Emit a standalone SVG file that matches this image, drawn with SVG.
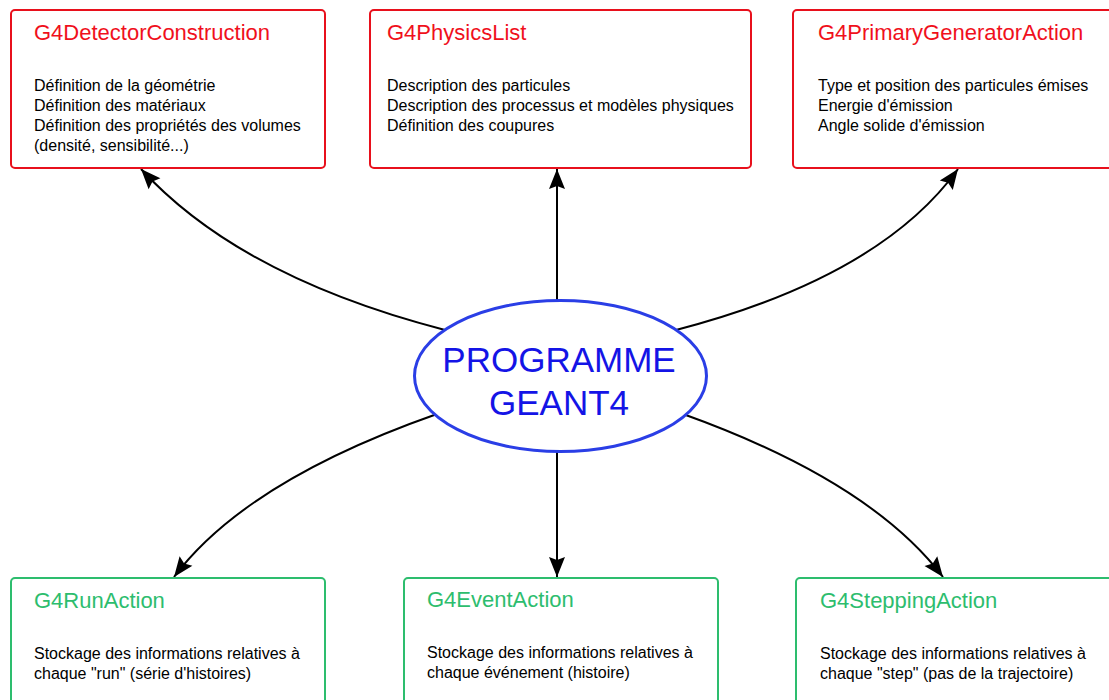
<svg xmlns="http://www.w3.org/2000/svg" width="1109" height="700" viewBox="0 0 1109 700">
<style>
.box{fill:#fff;stroke-width:2}
.red{stroke:#e8101c}
.green{stroke:#2dbd6e}
.title{font-family:"Liberation Sans",Arial,sans-serif;font-size:22px}
.tred{fill:#f0101c}
.tgreen{fill:#2dbd6e}
.body{font-family:"Liberation Sans",Arial,sans-serif;font-size:16px;fill:#000}
.conn{fill:none;stroke:#000;stroke-width:2}
.big{font-family:"Liberation Sans",Arial,sans-serif;font-size:35px;fill:#1414e6;text-anchor:middle}
</style>
<defs>
<marker id="arr" markerUnits="userSpaceOnUse" markerWidth="22" markerHeight="18" refX="20" refY="8" orient="auto" overflow="visible">
<path d="M0,0 L20,8 L0,16 L3,8 z" fill="#000"/>
</marker>
</defs>
<rect width="1109" height="700" fill="#fff"/>
<g id="connectors">
<path class="conn" marker-end="url(#arr)" d="M445,330 Q240,277 141,169"/>
<path class="conn" marker-end="url(#arr)" d="M557,302 L557,169"/>
<path class="conn" marker-end="url(#arr)" d="M676,330 Q880,277 958,169"/>
<path class="conn" marker-end="url(#arr)" d="M437,414 Q246,481 174,577"/>
<path class="conn" marker-end="url(#arr)" d="M557,450 L557,577"/>
<path class="conn" marker-end="url(#arr)" d="M683,414 Q870,481 943,577"/>
</g>
<g id="G4DetectorConstruction">
<rect class="box red" x="11" y="10" width="314" height="158" rx="4"/>
<text class="title tred" x="34" y="39.5">G4DetectorConstruction</text>
<text class="body" x="34" y="90.5">Définition de la géométrie</text>
<text class="body" x="34" y="110.5">Définition des matériaux</text>
<text class="body" x="34" y="130.5">Définition des propriétés des volumes</text>
<text class="body" x="34" y="150.5">(densité, sensibilité...)</text>
</g>
<g id="G4PhysicsList">
<rect class="box red" x="370" y="10" width="381" height="158" rx="4"/>
<text class="title tred" x="387" y="39.5">G4PhysicsList</text>
<text class="body" x="387" y="90.5">Description des particules</text>
<text class="body" x="387" y="110.5">Description des processus et modèles physiques</text>
<text class="body" x="387" y="130.5">Définition des coupures</text>
</g>
<g id="G4PrimaryGeneratorAction">
<rect class="box red" x="793" y="10" width="330" height="158" rx="4"/>
<text class="title tred" x="818" y="39.5">G4PrimaryGeneratorAction</text>
<text class="body" x="818" y="90.5">Type et position des particules émises</text>
<text class="body" x="818" y="110.5">Energie d'émission</text>
<text class="body" x="818" y="130.5">Angle solide d'émission</text>
</g>
<g id="programme">
<ellipse cx="560.5" cy="376" rx="146" ry="75.5" fill="#fff" stroke="#2a3ee6" stroke-width="3"/>
<text class="big" x="559" y="372">PROGRAMME</text>
<text class="big" x="559" y="415">GEANT4</text>
</g>
<g id="G4RunAction">
<rect class="box green" x="11" y="578" width="314" height="140" rx="4"/>
<text class="title tgreen" x="34" y="608">G4RunAction</text>
<text class="body" x="34" y="659">Stockage des informations relatives à</text>
<text class="body" x="34" y="679">chaque "run" (série d'histoires)</text>
</g>
<g id="G4EventAction">
<rect class="box green" x="404" y="578" width="314" height="140" rx="4"/>
<text class="title tgreen" x="427" y="606.5">G4EventAction</text>
<text class="body" x="427" y="657.5">Stockage des informations relatives à</text>
<text class="body" x="427" y="677.5">chaque événement (histoire)</text>
</g>
<g id="G4SteppingAction">
<rect class="box green" x="796" y="578" width="330" height="140" rx="4"/>
<text class="title tgreen" x="820" y="608">G4SteppingAction</text>
<text class="body" x="820" y="659">Stockage des informations relatives à</text>
<text class="body" x="820" y="679">chaque "step" (pas de la trajectoire)</text>
</g>
</svg>
